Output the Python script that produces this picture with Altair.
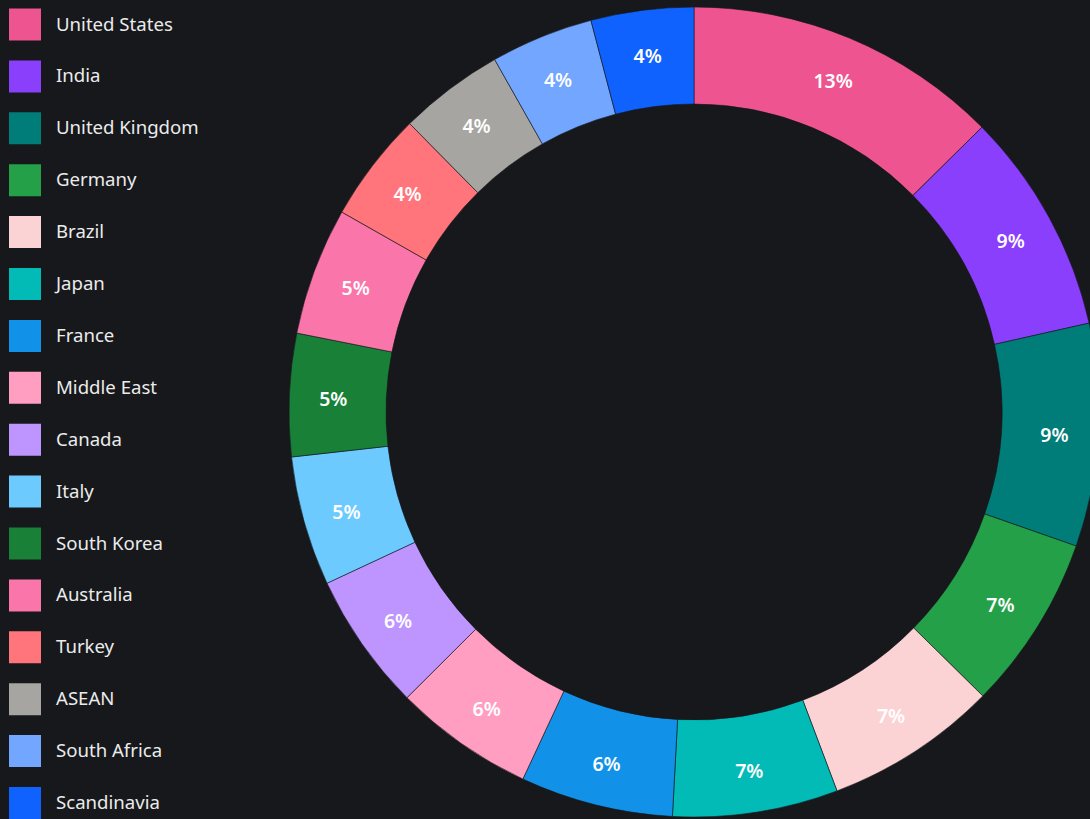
import altair as alt
import pandas as pd

# Market share by region (percent of total)
countries = [
    "United States", "India", "United Kingdom", "Germany", "Brazil", "Japan",
    "France", "Middle East", "Canada", "Italy", "South Korea", "Australia",
    "Turkey", "ASEAN", "South Africa", "Scandinavia",
]
shares = [12.6, 8.9, 8.9, 7.0, 6.9, 6.6, 6.1, 5.6, 5.52, 5.18, 4.9, 5.1, 4.4, 4.2, 4.1, 4.1]
palette = [
    "#ee5590", "#8a3ffc", "#007d79", "#24a148", "#fbd3d5", "#02bab6",
    "#1192e8", "#ff9ec1", "#be95ff", "#6ccaff", "#198038", "#fa75aa",
    "#ff757b", "#a7a5a2", "#72a6ff", "#0f62fe",
]

df = pd.DataFrame({"country": countries, "share": shares, "idx": list(range(len(countries)))})

BG = "#16181b"
FONT = "Noto Sans"
CX, CY = 694, 412

base = alt.Chart(df).transform_joinaggregate(
    total="sum(share)"
).transform_calculate(
    pct="datum.share / datum.total"
)

theta = alt.Theta("share:Q", stack=True)
order = alt.Order("idx:Q", sort="ascending")

ring = base.mark_arc(
    outerRadius=405, innerRadius=308, stroke=BG, strokeWidth=0.6
).encode(
    theta=theta,
    order=order,
    x=alt.value(CX),
    y=alt.value(CY),
    color=alt.Color(
        "country:N",
        sort=countries,
        scale=alt.Scale(domain=countries, range=palette),
        legend=alt.Legend(
            title=None,
            orient="none",
            legendX=9,
            legendY=8.5,
            symbolType="square",
            symbolSize=1024,
            symbolStrokeWidth=0,
            symbolOpacity=1,
            labelFont=FONT,
            labelFontSize=18.6,
            labelColor="#ebebeb",
            labelOffset=15,
            rowPadding=19.9,
            padding=0,
            labelLimit=300,
        ),
    ),
)

labels = base.mark_text(
    radius=361, dy=3, font=FONT, fontSize=19.5, fontWeight=600, color="#ffffff",
    align="center", baseline="middle",
).encode(
    theta=theta,
    order=order,
    x=alt.value(CX),
    y=alt.value(CY),
    text=alt.Text("pct:Q", format=".0%"),
)

chart = (
    alt.layer(ring, labels)
    .properties(width=1090, height=819, background=BG, padding=0, autosize="none")
    .configure_view(stroke=None)
)

chart.save("out.html", embed_options={"renderer": "svg", "actions": False})
